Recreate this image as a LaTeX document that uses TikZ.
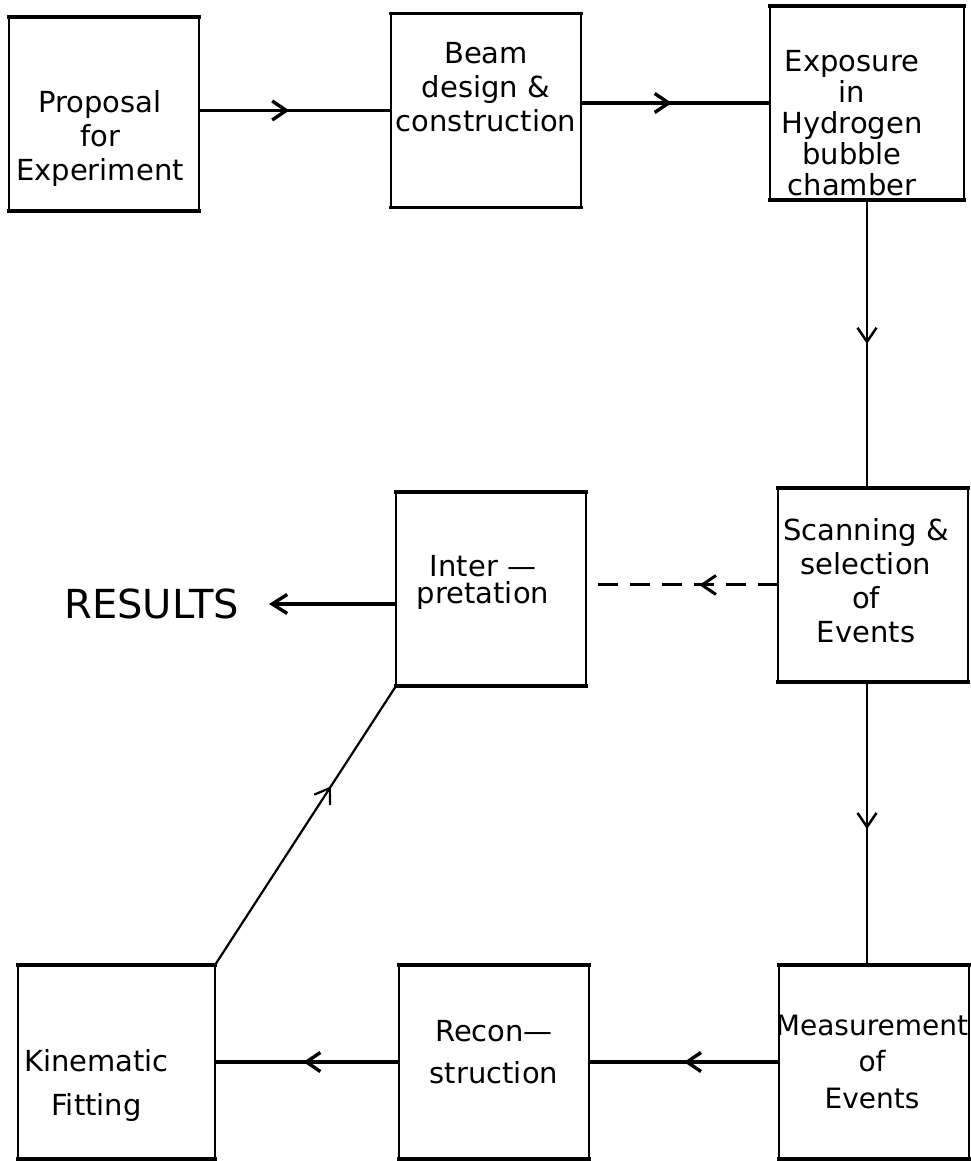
\documentclass[tikz,border=0pt]{standalone}
\usepackage{fontspec}
\setmainfont{DejaVu Sans}
\usetikzlibrary{positioning, arrows.meta, decorations.markings}

\begin{document}
\begin{tikzpicture}[x=1pt, y=1pt, >={Straight Barb[length=14pt, width=19pt]}]
\tikzstyle{box} = [rectangle, draw, line width=2.2pt, outer sep=0pt, minimum width=190pt, minimum height=194pt]
\tikzstyle{rim} = [line width=3.6pt, line cap=rect]
\tikzstyle{txt} = [align=center, inner sep=0pt, font=\fontsize{29}{34}\selectfont]
\tikzset{flow/.style={line width=3.4pt, postaction={decorate},
  decoration={markings, mark=at position #1 with {\arrow{>}}}}}
\tikzset{dashflow/.style={flow=#1, line width=3pt, dash pattern=on 20pt off 12pt}}

\useasboundingbox (0,0) rectangle (971,1161);

\node (prop) [box, label={[txt, xshift=-4pt, yshift=-25pt]center:Proposal\\for\\Experiment}] at (104,1047) {};
\node (beam) [box, right=192pt of prop, yshift=3.5pt, label={[txt, yshift=23pt]center:Beam\\design \&\\construction}] {};
\node (expo) [box, right=189pt of beam, yshift=7.5pt, minimum width=194pt,
  label={[txt, font=\fontsize{29}{31}\selectfont, xshift=-15pt, yshift=-20pt]center:Exposure\\in\\Hydrogen\\bubble\\chamber}] {};
\node (scan) [box, below=288pt of expo, xshift=6pt, label={[txt, xshift=-7pt, yshift=4.5pt]center:Scanning \&\\selection\\of\\Events}] {};
\node (interp) [box, left=192pt of scan, yshift=-4pt, label={[txt, xshift=-8pt, yshift=7pt]center:Inter —\\[-7pt]pretation}] {};
\node (res) [left=157pt of interp, yshift=-15pt, inner sep=0pt, font=\fontsize{40}{48}\selectfont] {RESULTS};
\node (meas) [box, below=283pt of scan, xshift=1pt,
  label={[txt, font=\fontsize{28}{34}\selectfont, xshift=-2pt]center:Measurement\\[2pt]of\\[3pt]Events}] {};
\node (recon) [box, left=190pt of meas, label={[txt, yshift=10pt]center:Recon—\\[8pt]struction}] {};
\node (kin) [box, left=184pt of recon, minimum width=197pt, label={[txt, xshift=-20pt, yshift=-24pt]center:Kinematic\\[10pt]Fitting}] {};

\foreach \b in {prop, beam, expo, scan, interp, meas, recon, kin}
  \draw [rim] (\b.north west) -- (\b.north east) (\b.south west) -- (\b.south east);

\draw [flow=0.47] (prop.east |- beam) -- (beam.west);
\draw [flow=0.48] (beam.east |- expo) -- (expo.west);
\draw [flow=0.5, line width=2.5pt] (expo.south) -- (expo.south |- scan.north);
\draw [dashflow=0.41] (scan.west) -- (scan.west -| interp.east);
\draw [-{Straight Barb[length=15pt, width=19pt]}, line width=3.4pt, shorten >=30pt] (interp.west |- res) -- (res.east);
\draw [flow=0.52, line width=2.5pt] (expo.south |- scan.south) -- (expo.south |- meas.north);
\draw [flow=0.5] (meas.west) -- (recon.east);
\draw [flow=0.52] (recon.west) -- (kin.east);
\draw [flow=0.64, line width=2.2pt] (kin.north east) -- (interp.south west);
\end{tikzpicture}
\end{document}
